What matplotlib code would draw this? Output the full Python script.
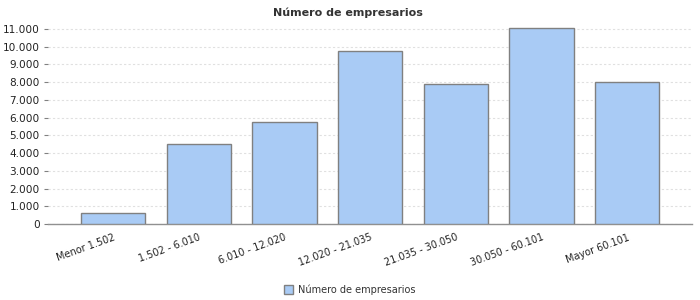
import matplotlib
matplotlib.use("Agg")
import matplotlib.pyplot as plt
from matplotlib.ticker import FuncFormatter

categorias = ["Menor 1.502", "1.502 - 6.010", "6.010 - 12.020", "12.020 - 21.035",
              "21.035 - 30.050", "30.050 - 60.101", "Mayor 60.101"]
empresarios = [620, 4500, 5750, 9760, 7900, 11050, 8010]
ticks_y = [0, 1000, 2000, 3000, 4000, 5000, 6000, 7000, 8000, 9000, 10000, 11000]

fig = plt.figure(figsize=(7, 3), dpi=100)
ax = fig.add_axes([0.0686, 0.2533, 0.92, 0.68])

x = range(len(categorias))
ax.bar(x, empresarios, width=0.75, color="#a9cbf5", edgecolor="#808080",
       linewidth=1.0, label="Número de empresarios", zorder=3)

ax.set_xlim(-0.76, 6.755)
ax.set_ylim(0, 11500)
ax.set_yticks(ticks_y)
ax.yaxis.set_major_formatter(FuncFormatter(lambda v, p: f"{int(v):,}".replace(",", ".")))
ax.grid(axis="y", color="#e0e0e0", linestyle=(0, (2, 2)), linewidth=0.8, zorder=0)

for s in ["top", "right", "left"]:
    ax.spines[s].set_visible(False)
ax.spines["bottom"].set_color("#909090")
ax.spines["bottom"].set_linewidth(1.0)

ax.tick_params(axis="y", length=3, color="#808080", labelsize=7.6, labelcolor="#222222", pad=3)
ax.tick_params(axis="x", length=0, labelsize=7, labelcolor="#222222", pad=6)
ax.set_xticks(list(x))
ax.set_xticklabels(categorias, rotation=20, ha="right", rotation_mode="anchor")

fig.text(0.497, 0.975, "Número de empresarios", ha="center", va="top",
         fontsize=8, fontweight="bold", color="#333333")

leg = fig.legend(loc="lower center", bbox_to_anchor=(0.5, -0.012), frameon=False,
                 fontsize=7, handlelength=0.9, handleheight=0.9, handletextpad=0.5)
for t in leg.get_texts():
    t.set_color("#333333")

fig.savefig("out.png", dpi=100)
